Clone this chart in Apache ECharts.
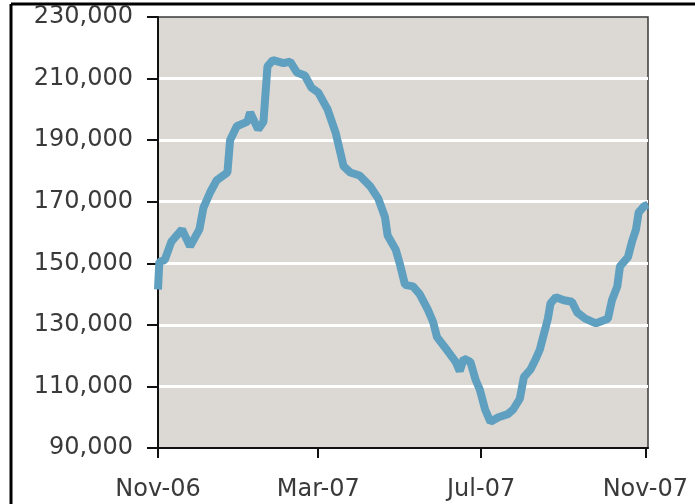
<!DOCTYPE html>
<html>
<head>
    <meta charset="utf-8">
    <script src="https://cdn.jsdelivr.net/npm/echarts@6/dist/echarts.min.js"></script>
    <style>
        html, body {
            margin: 0;
            padding: 0;
            background: #ffffff;
        }

        #chart {
            width: 695px;
            height: 504px;
        }
    </style>
</head>
<body>
<div id="chart"></div>
<script>
    // traced points of the weekly series (date, value)
    var theDates = [
        '2006-11-01', '2006-11-02', '2006-11-06', '2006-11-11', '2006-11-19', '2006-11-25',
        '2006-12-02', '2006-12-05', '2006-12-10', '2006-12-15', '2006-12-23', '2006-12-25', '2006-12-30',
        '2007-01-07', '2007-01-09', '2007-01-15', '2007-01-19', '2007-01-22', '2007-01-26',
        '2007-02-03', '2007-02-08', '2007-02-13', '2007-02-19', '2007-02-24',
        '2007-03-01', '2007-03-08', '2007-03-14', '2007-03-17', '2007-03-20', '2007-03-25',
        '2007-04-01', '2007-04-09', '2007-04-15', '2007-04-20', '2007-04-22', '2007-04-28',
        '2007-05-01', '2007-05-05', '2007-05-11', '2007-05-16', '2007-05-22', '2007-05-26', '2007-05-29',
        '2007-06-06', '2007-06-12', '2007-06-15', '2007-06-18', '2007-06-23', '2007-06-27', '2007-06-30',
        '2007-07-04', '2007-07-08', '2007-07-14', '2007-07-21', '2007-07-25', '2007-07-30',
        '2007-08-02', '2007-08-07', '2007-08-11', '2007-08-14', '2007-08-20', '2007-08-22', '2007-08-26',
        '2007-09-01', '2007-09-07', '2007-09-11', '2007-09-17', '2007-09-25',
        '2007-10-04', '2007-10-07', '2007-10-11', '2007-10-13', '2007-10-19', '2007-10-22',
        '2007-10-25', '2007-10-27', '2007-10-31', '2007-11-03'
    ];
    var theValues = [
        141500, 150500, 151000, 157000, 161000, 155500,
        161000, 168000, 173000, 177000, 179500, 190000, 194500,
        196000, 199000, 193500, 196000, 214000, 216000,
        215000, 215500, 212000, 211000, 207000,
        205500, 200000, 192500, 187000, 181500, 179500,
        178500, 175000, 171000, 165000, 159000, 154500,
        150000, 143000, 142500, 140000, 135000, 131000, 126000,
        121500, 118000, 115000, 119000, 118000, 112000, 109000,
        102500, 98500, 100000, 101000, 102500, 106000,
        113000, 115500, 119000, 122000, 132000, 137000, 139000,
        138000, 137500, 134000, 132000, 130500,
        132000, 138000, 142500, 149000, 152000, 157000,
        161000, 166500, 168500, 169000
    ];
    // x axis tick labels
    var theTickDates = ['2006-11-01', '2007-03-01', '2007-07-01', '2007-11-01'];
    var theTickLabels = ['Nov-06', 'Mar-07', 'Jul-07', 'Nov-07'];
    // y axis range
    var theYMin = 90000;
    var theYMax = 230000;
    var theYStep = 20000;

    // dates as day numbers so the x axis can be a plain value axis
    function toDay(s) {
        var p = s.split('-');
        return Date.UTC(+p[0], +p[1] - 1, +p[2]) / 86400000;
    }

    var theSeriesData = theDates.map(function (d, i) {
        return [toDay(d), theValues[i]];
    });
    var theTickDays = theTickDates.map(toDay);

    var chart = echarts.init(document.getElementById('chart'));
    var theOptions = {
        animation: false,
        textStyle: {
            fontFamily: 'DejaVu Sans'
        },
        grid: {
            left: 158,
            right: 47,
            top: 17,
            bottom: 56,
            show: true,
            backgroundColor: '#dcd8d4',
            borderColor: '#3a3a3a',
            borderWidth: 1.5
        },
        xAxis: {
            type: 'value',
            min: toDay('2006-11-01'),
            max: toDay('2007-11-03'),
            axisLine: {
                lineStyle: {color: '#111', width: 2}
            },
            axisTick: {
                show: true,
                length: 10,
                customValues: theTickDays,
                lineStyle: {color: '#111', width: 2}
            },
            axisLabel: {
                customValues: theTickDays,
                margin: 30,
                fontSize: 24,
                color: '#3a3a3a',
                hideOverlap: false,
                formatter: function (val) {
                    var idx = theTickDays.indexOf(val);
                    return idx >= 0 ? theTickLabels[idx] : '';
                }
            },
            splitLine: {show: false}
        },
        yAxis: {
            type: 'value',
            min: theYMin,
            max: theYMax,
            interval: theYStep,
            axisLine: {
                show: true,
                lineStyle: {color: '#111', width: 2}
            },
            axisTick: {
                show: true,
                length: 11,
                lineStyle: {color: '#111', width: 2}
            },
            axisLabel: {
                margin: 25,
                fontSize: 24,
                color: '#3a3a3a',
                formatter: function (val) {
                    return val.toLocaleString('en-US');
                }
            },
            splitLine: {
                showMaxLine: false,
                lineStyle: {color: '#ffffff', width: 3}
            }
        },
        series: [
            {
                type: 'line',
                data: theSeriesData,
                showSymbol: false,
                lineStyle: {color: '#5f9fbf', width: 8},
                z: 3
            }
        ],
        // outer frame of the cropped figure
        graphic: [
            {
                type: 'line',
                shape: {x1: 11, y1: 4, x2: 11, y2: 504},
                style: {stroke: '#000', lineWidth: 3}
            },
            {
                type: 'line',
                shape: {x1: 11, y1: 4, x2: 695, y2: 4},
                style: {stroke: '#000', lineWidth: 3}
            }
        ]
    };
    chart.setOption(theOptions);
</script>
</body>
</html>
